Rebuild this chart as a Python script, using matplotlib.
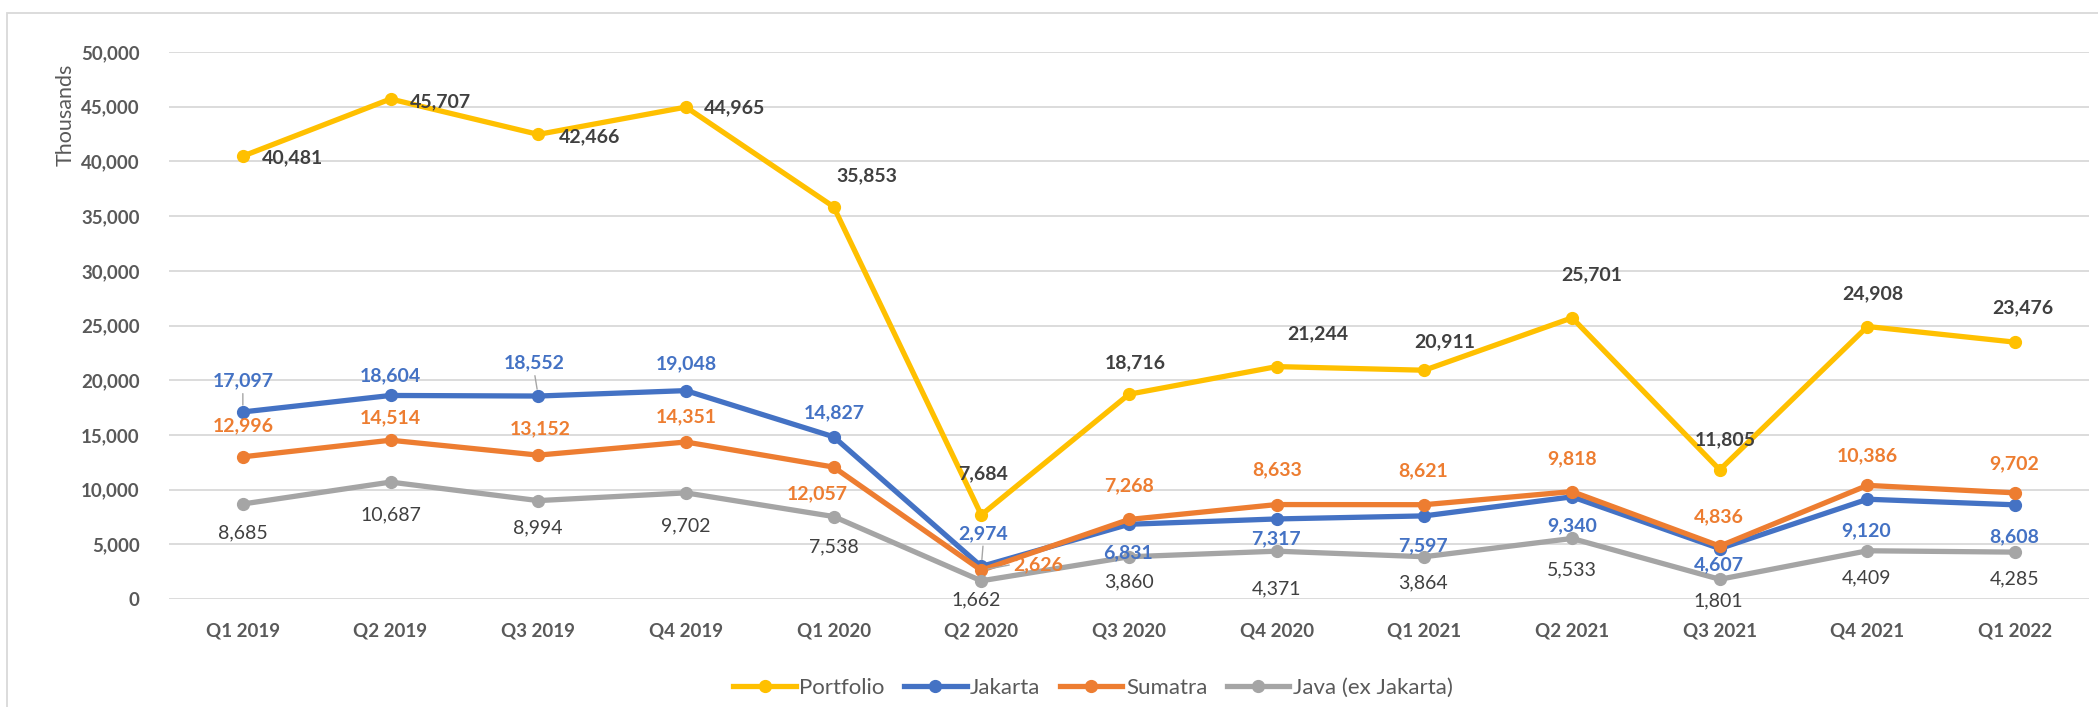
import matplotlib
matplotlib.use("Agg")
import matplotlib.pyplot as plt
from matplotlib.lines import Line2D
from matplotlib.patches import Rectangle

plt.rcParams['font.family'] = ['Lato', 'DejaVu Sans']

# ---------------- data ----------------
quarters = ["Q1 2019", "Q2 2019", "Q3 2019", "Q4 2019", "Q1 2020", "Q2 2020", "Q3 2020",
            "Q4 2020", "Q1 2021", "Q2 2021", "Q3 2021", "Q4 2021", "Q1 2022"]
portfolio = [40481, 45707, 42466, 44965, 35853, 7684, 18716, 21244, 20911, 25701, 11805, 24908, 23476]
jakarta = [17097, 18604, 18552, 19048, 14827, 2974, 6831, 7317, 7597, 9340, 4607, 9120, 8608]
sumatra = [12996, 14514, 13152, 14351, 12057, 2626, 7268, 8633, 8621, 9818, 4836, 10386, 9702]
java_ex = [8685, 10687, 8994, 9702, 7538, 1662, 3860, 4371, 3864, 5533, 1801, 4409, 4285]
series_names = ["Portfolio", "Jakarta", "Sumatra", "Java (ex Jakarta)"]
y_ticks = [0, 5000, 10000, 15000, 20000, 25000, 30000, 35000, 40000, 45000, 50000]

# ---------------- style ----------------
colors = ["#FFC000", "#4472C4", "#ED7D31", "#A5A5A5"]
label_colors = ["#404040", "#4472C4", "#ED7D31", "#404040"]
label_weights = ["bold", "bold", "bold", "normal"]

# label centre offsets from each point, in pixels (dx, dy up)
label_offsets = [
    [(50, -2), (50, -3), (51, -2), (49, -1), (33, 31), (2, 41), (6, 31), (41, 33), (20, 28), (20, 43), (5, 30), (5, 33), (8, 34)],
    [(0, 31), (0, 20), (-4, 33), (0, 27), (1, 24), (2, 33), (-1, -28), (-1, -20), (-1, -30), (0, -29), (-1, -16), (-1, -32), (-1, -32)],
    [(0, 31), (0, 22), (2, 26), (0, 25), (-16, -27), (57, 6), (0, 34), (0, 35), (-1, 34), (0, 33), (-1, 29), (0, 30), (-1, 29)],
    [(0, -29), (0, -33), (0, -27), (0, -33), (0, -30), (-5, -19), (0, -25), (0, -38), (-1, -26), (0, -31), (-1, -22), (-1, -27), (-1, -27)],
]
leaders = {(1, 0): (0.5, 0.0), (1, 2): (0.5, 0.0), (1, 5): (0.5, 0.0), (2, 5): (0.0, 0.5)}

W, H = 2098, 707
fig = plt.figure(figsize=(W / 100, H / 100), dpi=100)
fig.patch.set_facecolor("white")

# chart-area border
fig.patches.append(Rectangle((7 / W, -0.05), 1.2, 1 - 13 / H + 0.05, transform=fig.transFigure,
                             fill=False, edgecolor="#D9D9D9", linewidth=1.3, zorder=0))

ax = fig.add_axes([169 / W, 108 / H, (2089 - 169) / W, (599 - 52) / H])
x = list(range(len(quarters)))
all_series = [portfolio, jakarta, sumatra, java_ex]

for i, (vals, c) in enumerate(zip(all_series, colors)):
    ax.plot(x, vals, color=c, lw=3.8, marker="o", markersize=8.5, zorder=3 + i,
            solid_joinstyle="round", solid_capstyle="round")

for i, vals in enumerate(all_series):
    for j, v in enumerate(vals):
        dx, dy = label_offsets[i][j]
        kw = {}
        if (i, j) in leaders:
            kw["arrowprops"] = dict(arrowstyle="-", color="#A6A6A6", lw=1.0,
                                    shrinkA=1, shrinkB=5, relpos=leaders[(i, j)])
        ax.annotate(f"{v:,}", xy=(j, v), xytext=(dx, dy), textcoords="offset pixels",
                    ha="center", va="center", fontsize=14, fontweight=label_weights[i],
                    color=label_colors[i], zorder=10, **kw)

ax.set_xlim(-0.5, len(quarters) - 0.5)
ax.set_ylim(0, 50000)
ax.set_yticks(y_ticks)
ax.set_yticklabels([f"{t:,}" for t in y_ticks])
ax.set_xticks(x)
ax.set_xticklabels(quarters)
ax.tick_params(axis="both", length=0, labelsize=13.5, labelcolor="#595959")
ax.tick_params(axis="y", pad=21)
ax.tick_params(axis="x", pad=17)
for lab in ax.get_xticklabels() + ax.get_yticklabels():
    lab.set_fontweight("bold")
ax.grid(axis="y", color="#D9D9D9", lw=1.3, zorder=0)
ax.set_axisbelow(True)
for s in ax.spines.values():
    s.set_visible(False)

fig.text(66 / W, 1 - 115 / H, "Thousands", rotation=90, ha="center", va="center",
         fontsize=15.5, color="#595959")

handles = [Line2D([0], [0], color=c, lw=3.8, marker="o", markersize=8.5) for c in colors]
fig.legend(handles, series_names, loc="center", bbox_to_anchor=(1093 / W, 1 - 688 / H), ncol=4,
           frameon=False, fontsize=16, handlelength=2.8, handletextpad=0.15, columnspacing=0.9,
           labelcolor="#595959")

fig.savefig("out.png", dpi=100, facecolor="white")
